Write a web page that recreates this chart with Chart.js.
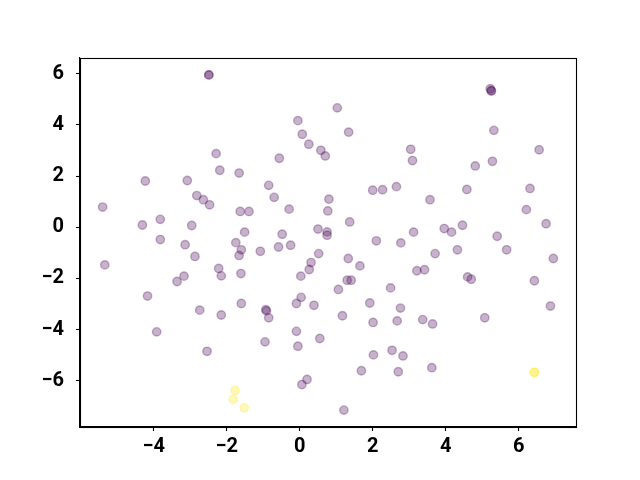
<!DOCTYPE html>
<html>
<head>
<meta charset="utf-8">
<script src="https://cdn.jsdelivr.net/npm/chart.js@4/dist/chart.umd.min.js"></script>
<style>
  html, body { margin: 0; padding: 0; background: #ffffff; }
  #wrap { width: 640px; height: 480px; position: relative; }
</style>
</head>
<body>
<div id="wrap"><canvas id="c" width="640" height="480"></canvas></div>
<script>
// Class 0 (purple) points
const purpleX = [-2.49,-2.49,-0.05,0.07,0.25,0.58,0.70,-2.29,-0.56,-2.19,-1.66,-4.23,-3.08,-0.85,-0.70,-2.82,-2.64,-2.47,-5.40,-1.63,-1.39,-0.29,-4.31,-3.82,-2.96,-3.82,-3.14,-1.75,-1.51,-0.48,0.50,0.75,0.75,0.80,0.77,1.03,1.34,3.04,3.09,5.22,5.25,5.25,5.32,5.28,4.81,6.56,6.31,6.21,6.75,2.00,2.27,2.65,4.58,3.57,1.37,2.10,2.77,3.12,3.96,4.16,4.46,5.41,-1.60,-1.66,-1.08,-0.58,-0.25,0.52,0.31,0.26,0.03,-2.87,-5.34,-2.22,-2.15,-3.17,-3.36,-1.61,-4.17,-1.60,-2.74,-2.15,-0.93,-0.91,-0.85,-0.09,0.04,0.39,-3.92,-2.54,-0.95,-0.09,-0.05,0.55,0.20,0.06,1.33,1.65,3.71,4.32,5.67,6.95,1.30,1.41,1.06,3.21,3.42,4.60,4.70,2.49,6.43,6.87,5.07,1.92,2.76,1.17,2.01,2.67,3.37,3.64,2.02,2.53,2.83,1.69,2.70,3.62,1.21];
const purpleY = [5.96,5.96,4.17,3.64,3.25,3.01,2.79,2.88,2.70,2.23,2.12,1.81,1.83,1.64,1.17,1.24,1.08,0.88,0.79,0.62,0.62,0.71,0.09,0.31,0.07,-0.48,-0.68,-0.60,-0.19,-0.27,-0.07,-0.18,-0.31,1.10,0.64,4.67,3.72,3.05,2.61,5.42,5.35,5.33,3.79,2.58,2.40,3.03,1.52,0.69,0.14,1.45,1.47,1.59,1.48,1.08,0.21,-0.53,-0.61,-0.19,-0.05,-0.19,0.08,-0.35,-0.88,-1.10,-0.94,-0.77,-0.70,-1.03,-1.38,-1.65,-1.91,-1.14,-1.47,-1.61,-1.90,-1.91,-2.12,-1.81,-2.69,-2.98,-3.24,-3.43,-3.22,-3.27,-3.54,-2.98,-2.74,-3.05,-4.09,-4.85,-4.48,-4.07,-4.65,-4.35,-5.95,-6.15,-1.22,-1.51,-1.03,-0.88,-0.88,-1.22,-2.07,-2.07,-2.43,-1.70,-1.66,-1.94,-2.03,-2.37,-2.09,-3.08,-3.54,-2.96,-3.16,-3.46,-3.72,-3.66,-3.61,-3.78,-4.99,-4.81,-5.03,-5.61,-5.65,-5.49,-7.15];
// Class 1 (yellow) points
const yellowX = [-1.77,-1.82,-1.52,6.43,6.43];
const yellowY = [-6.38,-6.73,-7.06,-5.67,-5.67];
// Axis ticks
const xTicks = [-4,-2,0,2,4,6];
const yTicks = [-6,-4,-2,0,2,4,6];

const toPts = (xs, ys) => xs.map((x, i) => ({x: x, y: ys[i]}));
const purple = 'rgba(68,1,84,0.3)';
const yellow = 'rgba(253,231,37,0.3)';
const fmt = v => (v < 0 ? '\u2212' + Math.abs(v) : String(v));

const frame = {
  id: 'frame',
  afterDraw(chart) {
    const a = chart.chartArea, ctx = chart.ctx;
    ctx.save();
    ctx.strokeStyle = '#000';
    ctx.lineWidth = 1.1;
    ctx.strokeRect(Math.round(a.left) + 0.5, Math.round(a.top) + 0.5, Math.round(a.right - a.left), Math.round(a.bottom - a.top));
    ctx.restore();
  }
};

const tickFont = { family: 'Roboto', weight: 'bold', size: 20 };

new Chart(document.getElementById('c'), {
  type: 'scatter',
  data: {
    datasets: [
      { data: toPts(purpleX, purpleY), backgroundColor: purple, borderColor: purple, pointRadius: 4.2, borderWidth: 1.4, pointHoverRadius: 4.2 },
      { data: toPts(yellowX, yellowY), backgroundColor: yellow, borderColor: yellow, pointRadius: 4.2, borderWidth: 1.4, pointHoverRadius: 4.2 }
    ]
  },
  options: {
    responsive: false,
    animation: false,
    events: [],
    layout: { padding: { left: 0, top: 58, right: 64, bottom: 0 } },
    plugins: { legend: { display: false }, tooltip: { enabled: false } },
    scales: {
      x: {
        type: 'linear', min: -6.02, max: 7.57,
        afterBuildTicks: s => { s.ticks = xTicks.map(v => ({ value: v })); },
        afterFit: s => { s.height = 53; },
        grid: { drawOnChartArea: false, drawTicks: true, tickLength: 4, tickColor: '#000', tickWidth: 1.1 },
        border: { display: true, color: '#000', width: 1.1 },
        ticks: { color: '#000', padding: 4, maxRotation: 0, autoSkip: false, font: tickFont, callback: v => fmt(v) }
      },
      y: {
        type: 'linear', min: -7.81, max: 6.62,
        afterBuildTicks: s => { s.ticks = yTicks.map(v => ({ value: v })); },
        afterFit: s => { s.width = 80; },
        grid: { drawOnChartArea: false, drawTicks: true, tickLength: 4, tickColor: '#000', tickWidth: 1.1 },
        border: { display: true, color: '#000', width: 1.1 },
        ticks: { color: '#000', padding: 12, autoSkip: false, font: tickFont, callback: v => fmt(v) }
      }
    }
  },
  plugins: [frame]
});
</script>
</body>
</html>
